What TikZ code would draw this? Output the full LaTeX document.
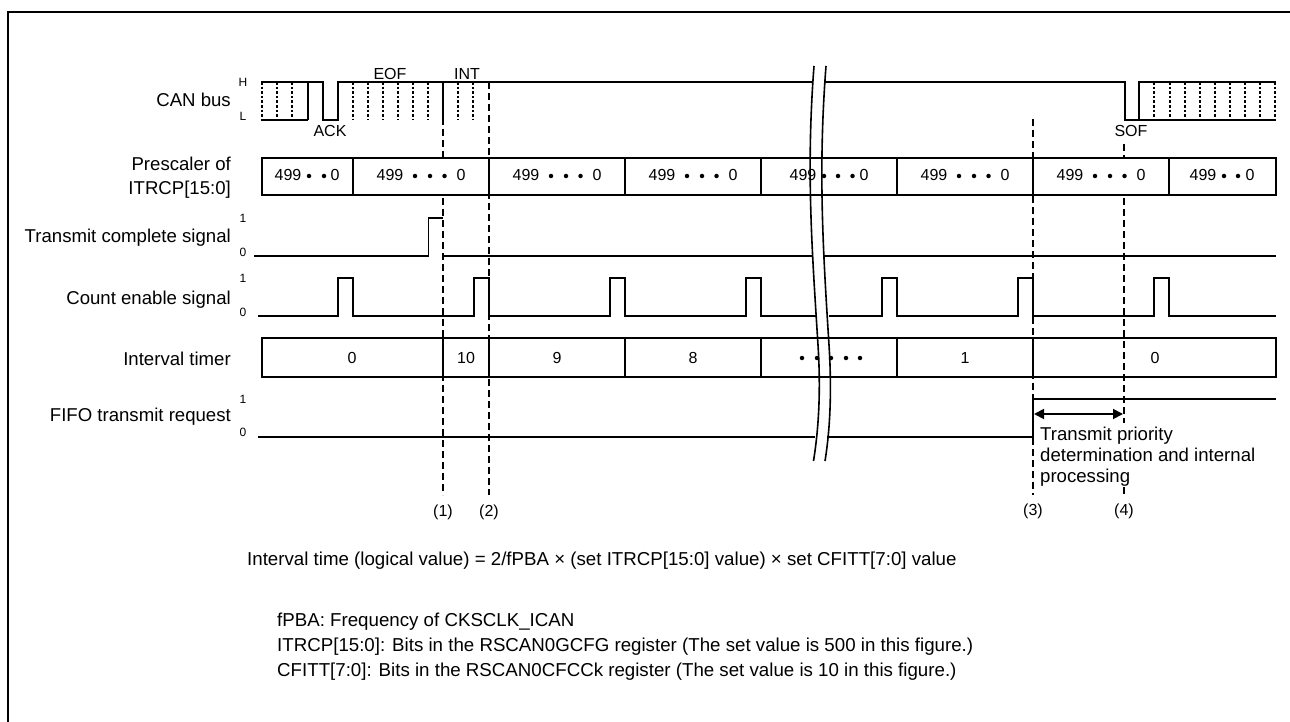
\documentclass[tikz,border=0pt]{standalone}
\usepackage{fontspec}
\setmainfont{Liberation Sans}
\usetikzlibrary{arrows.meta}
\tikzset{
  sig/.style={line width=1.8pt,line cap=butt,line join=miter},
  guide/.style={line width=2.6pt,dash pattern=on 7pt off 4pt},
  bits/.style={line width=2.4pt,dash pattern=on 2.6pt off 2pt},
  brk/.style={line width=1.6pt},
  lbl/.style={anchor=base east,inner sep=0pt,font=\fontsize{18.6}{21}\selectfont},
  val/.style={anchor=base,inner sep=0pt,font=\fontsize{16}{18}\selectfont},
  lvl/.style={anchor=base,inner sep=0pt,font=\fontsize{12}{13}\selectfont},
  note/.style={anchor=base west,inner sep=0pt,font=\fontsize{18.7}{21}\selectfont},
  dotm/.style={circle,fill=black,inner sep=0pt,minimum size=4.5pt}
}
\begin{document}
\begin{tikzpicture}[x=1pt,y=-1pt]
\useasboundingbox (0,0) rectangle (1290,722);
% frame
\draw[line width=2pt] (8,722) -- (8,12) -- (1290,12);

% row labels
\node[lbl] (lcan) at (231,106.7) {CAN bus};
\node[lbl] (lpre1) at (231,170.7) {Prescaler of};
\node[lbl] (lpre2) at (231,195) {ITRCP[15:0]};
\node[lbl] (ltc) at (231,242.7) {Transmit complete signal};
\node[lbl] (lce) at (231,304) {Count enable signal};
\node[lbl] (lit) at (231,365) {Interval timer};
\node[lbl] (lff) at (231,421) {FIFO transmit request};
\node[lvl] (vh) at (243,86.7) {H};
\node[lvl] (vl) at (243,120.7) {L};
\node[lvl] (tc1) at (243,222.3) {1};
\node[lvl] (tc0) at (243,256.7) {0};
\node[lvl] (ce1) at (243,282) {1};
\node[lvl] (ce0) at (243,316.7) {0};
\node[lvl] (ff1) at (243,403) {1};
\node[lvl] (ff0) at (243,436.7) {0};

% CAN bus
\draw[sig] (261,120) -- (308,120) (308,120) -- (308,82);
\draw[sig] (261,82) -- (323,82) -- (323,120) -- (338,120) -- (338,82) -- (813,82);
\draw[sig] (443,82) -- (443,120);
\draw[sig] (825,82) -- (1125,82) -- (1125,120) -- (1139,120) -- (1139,82) -- (1276,82);
\draw[sig] (1139,120) -- (1276,120);
\foreach \x in {262,277,292,353,368,383,398,413,428,458,473}
  \draw[bits] (\x,82) -- (\x,120);
\foreach \x in {1154,1170,1185,1200,1215,1230,1245,1260,1275}
  \draw[bits] (\x,82) -- (\x,120);
\node[val] (ack) at (330,137) {ACK};
\node[val] (eof) at (390,80) {EOF};
\node[val] (int) at (467,80) {INT};
\node[val] (sof) at (1131,137) {SOF};

% prescaler
\draw[sig] (262,158) rectangle (1276,195);
\foreach \x in {353,489,625,761,897,1033,1169}
  \draw[sig] (\x,158) -- (\x,195);
\node[val] (p1a) at (288,181) {499};
\node[dotm] (p1b) at (309,176) {};
\node[dotm] (p1c) at (324,176) {};
\node[val] (p1d) at (335,181) {0};
\foreach \n/\x in {2/353,3/489,4/625,6/897,7/1033}{
  \node[val] (p\n a) at (\x+37,181) {499};
  \node[dotm] (p\n b) at (\x+62,176) {};
  \node[dotm] (p\n c) at (\x+77,176) {};
  \node[dotm] (p\n d) at (\x+91.5,176) {};
  \node[val] (p\n e) at (\x+108,181) {0};
}
\node[val] (p5a) at (803,181) {499};
\node[dotm] (p5b) at (824,176) {};
\node[dotm] (p5c) at (838,176) {};
\node[dotm] (p5d) at (852.5,176) {};
\node[val] (p5e) at (864,181) {0};
\node[val] (p8a) at (1203,181) {499};
\node[dotm] (p8b) at (1224,176) {};
\node[dotm] (p8c) at (1238,176) {};
\node[val] (p8d) at (1250,181) {0};

% transmit complete
\draw[sig] (254,256) -- (428.5,256) -- (428.5,218) -- (443,218);
\draw[sig] (443,256) -- (812,256) (824,256) -- (1276,256);

% count enable
\draw[sig] (258,316) -- (338,316) -- (338,278) -- (353,278) -- (353,316) -- (474,316) -- (474,278) -- (489,278) -- (489,316)
  -- (610,316) -- (610,278) -- (625,278) -- (625,316) -- (746,316) -- (746,278) -- (761,278) -- (761,316) -- (816,316);
\draw[sig] (829,316) -- (882,316) -- (882,278) -- (897,278) -- (897,316) -- (1018,316) -- (1018,278) -- (1033,278) -- (1033,316)
  -- (1154,316) -- (1154,278) -- (1169,278) -- (1169,316) -- (1276,316);

% interval timer
\draw[sig] (262,338) rectangle (1276,377);
\foreach \x in {443,489,625,761,897,1033}
  \draw[sig] (\x,338) -- (\x,377);
\node[val] (t0) at (352,363) {0};
\node[val] (t10) at (466,363) {10};
\node[val] (t9) at (557,363) {9};
\node[val] (t8) at (693,363) {8};
\foreach \n/\x in {a/802,b/817,c/831,d/846,e/860}
  \node[dotm] (td\n) at (\x,358) {};
\node[val] (t1) at (965,363) {1};
\node[val] (t00) at (1155,363) {0};

% FIFO request
\draw[sig] (258,437) -- (815,437) (827,437) -- (1033,437) -- (1033,399) -- (1276,399);

% break lines
\draw[brk] (814,66) .. controls (806,170) and (812,250) .. (818,345) .. controls (821,392) and (818.5,430) .. (813.5,461);
\draw[brk] (826,66) .. controls (818,170) and (823,250) .. (829,345) .. controls (832,392) and (830,430) .. (825,461);

% guides
\draw[guide] (443,118) -- (443,158) (443,198) -- (443,495);
\draw[guide] (489,82) -- (489,495);
\draw[guide] (1033,119) -- (1033,495);
\draw[guide] (1124,144) -- (1124,157) (1124,198) -- (1124,423) (1124,487) -- (1124,497);
\node[val] (m1) at (443,516) {(1)};
\node[val] (m2) at (489,516) {(2)};
\node[val] (m3) at (1033,515) {(3)};
\node[val] (m4) at (1124,515) {(4)};

% delay arrow
\draw[line width=1.8pt,{Triangle[length=10pt,width=10pt]}-{Triangle[length=10pt,width=10pt]}] (1034,414) -- (1123,414);
\node[inner sep=0pt,align=left,anchor=north west,font=\fontsize{18.6}{20.7}\selectfont] (tpd) at (1040,427) {Transmit priority\\determination and internal\\processing};

% notes
\node[note] (n0) at (247,565) {Interval time (logical value) = 2/fPBA × (set ITRCP[15:0] value) × set CFITT[7:0] value};
\node[note] (n1) at (277,626.7) {fPBA: Frequency of CKSCLK\_ICAN};
\node[note] (n2) at (277,651) {ITRCP[15:0]: Bits in the RSCAN0GCFG register (The set value is 500 in this figure.)};
\node[note] (n3) at (277,676) {CFITT[7:0]: Bits in the RSCAN0CFCCk register (The set value is 10 in this figure.)};
\end{tikzpicture}
\end{document}
